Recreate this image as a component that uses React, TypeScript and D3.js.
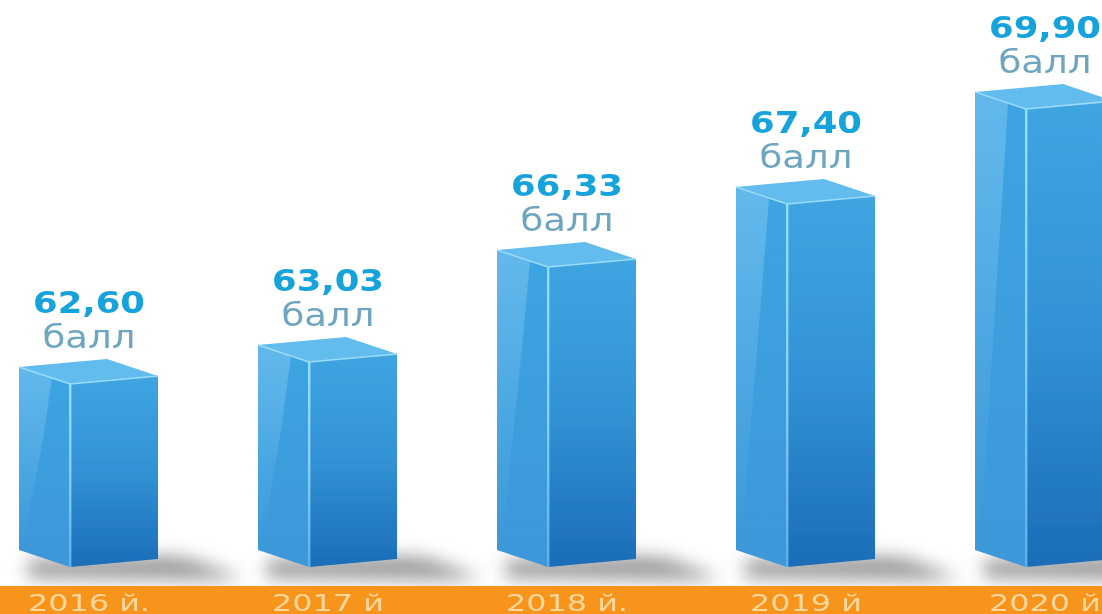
import * as d3 from 'd3';
import React from 'react';

const years = ['2016 й.', '2017 й', '2018 й.', '2019 й', '2020 й'];
const scores = [62.6, 63.03, 66.33, 67.4, 69.9];
const unit = 'балл';

const w = 1102;
const h = 614;
const bandTop = 586;
const frontBottom = 567;
const leftW = 51;
const rightW = 88;
const leftRise = 17;
const rightRise = 8;

const font = '"DejaVu Sans", sans-serif';

export default function App() {
  const xScale = d3.scalePoint<string>().domain(years).range([19, 975]);
  // the bars of the original are not to a straight scale, so this one has a knot per value
  const yScale = d3.scaleLinear().domain(scores).range([384, 362, 267, 204, 109]);

  const line = d3.line();

  const shadows = years.map((year) => {
    const right = (xScale(year) as number) + leftW + rightW;
    return (
      <path
        key={year}
        d={(line([
          [right - 130, 560],
          [right, 556],
          [right + 30, 558],
          [right + 85, 578],
          [right + 60, 580],
          [right - 130, 578],
        ]) as string) + 'Z'}
        fill='#9a9a9a'
        filter='url(#shadowBlur)'
      />
    );
  });

  const bars = years.map((year, i) => {
    const x = xScale(year) as number;
    const top = yScale(scores[i]);
    const mid = x + leftW;
    const right = mid + rightW;
    const path = (pts: [number, number][]) => (line(pts) as string) + 'Z';
    return (
      <g key={year}>
        <path
          d={path([
            [x, top - leftRise],
            [mid, top],
            [mid, frontBottom],
            [x, frontBottom - leftRise],
          ])}
          fill='url(#leftFace)'
        />
        <path
          d={path([
            [x, top - leftRise],
            [x + 33, top - leftRise + 11],
            [x + 24, top + (frontBottom - top) * 0.3],
            [x + 6, frontBottom - 35],
            [x, frontBottom - leftRise],
          ])}
          fill='url(#gleam)'
        />
        <path
          d={path([
            [mid, top],
            [right, top - rightRise],
            [right, frontBottom - rightRise],
            [mid, frontBottom],
          ])}
          fill='url(#rightFace)'
        />
        <path
          d={path([
            [x, top - leftRise],
            [x + rightW, top - leftRise - rightRise],
            [right, top - rightRise],
            [mid, top],
          ])}
          fill='#62bcee'
        />
        <path
          d={line([
            [x, top - leftRise],
            [mid, top],
            [right, top - rightRise],
          ]) as string}
          fill='none'
          stroke='#9bdcf9'
          strokeWidth={1.6}
        />
        <rect x={mid - 1} y={top} width={2.4} height={frontBottom - top} fill='url(#edge)' />
        <text
          x={x + 70}
          y={top - 71}
          textAnchor='middle'
          textLength={112}
          lengthAdjust='spacingAndGlyphs'
          style={{ font: `bold 31px ${font}`, fill: '#16a3dc' }}>
          {scores[i].toFixed(2).replace('.', ',')}
        </text>
        <text
          x={x + 70}
          y={top - 36}
          textAnchor='middle'
          textLength={93}
          lengthAdjust='spacingAndGlyphs'
          style={{ font: `32px ${font}`, fill: '#6ea6c0' }}>
          {unit}
        </text>
        <text
          x={x + 70}
          y={bandTop + 25}
          textAnchor='middle'
          textLength={i % 2 === 0 && i < 4 ? 122 : 112}
          lengthAdjust='spacingAndGlyphs'
          style={{ font: `23px ${font}`, fill: '#fcd79c' }}>
          {year}
        </text>
      </g>
    );
  });

  return (
    <svg
      width={w}
      height={h}
      style={{ position: 'absolute', left: 0, top: 0, display: 'block', backgroundColor: 'white' }}>
      <defs>
        <linearGradient id='leftFace' x1='0' y1='0' x2='0' y2='1'>
          <stop offset='0' stopColor='#3ea4e2' />
          <stop offset='1' stopColor='#3c97d9' />
        </linearGradient>
        <linearGradient id='gleam' x1='0' y1='0' x2='0' y2='1'>
          <stop offset='0' stopColor='#7cc6f1' stopOpacity={0.6} />
          <stop offset='0.6' stopColor='#7cc6f1' stopOpacity={0.2} />
          <stop offset='1' stopColor='#7cc6f1' stopOpacity={0} />
        </linearGradient>
        <linearGradient id='rightFace' x1='0.5' y1='0' x2='0.5' y2='1'>
          <stop offset='0' stopColor='#3fa5e1' />
          <stop offset='0.5' stopColor='#3292d5' />
          <stop offset='1' stopColor='#1b6db8' />
        </linearGradient>
        <linearGradient id='edge' x1='0' y1='0' x2='0' y2='1'>
          <stop offset='0' stopColor='#94e0fc' />
          <stop offset='0.5' stopColor='#84d0f8' />
          <stop offset='1' stopColor='#5cb0ea' />
        </linearGradient>
        <filter id='shadowBlur' x='-30%' y='-150%' width='160%' height='400%'>
          <feGaussianBlur stdDeviation='9' />
        </filter>
        <filter id='soft' x='-2%' y='-2%' width='104%' height='104%'>
          <feGaussianBlur stdDeviation='0.6' />
        </filter>
      </defs>
      <g>{shadows}</g>
      <g filter='url(#soft)'>
        <rect x={0} y={bandTop} width={w} height={h - bandTop} fill='#f7941e' />
        {bars}
      </g>
    </svg>
  );
}
